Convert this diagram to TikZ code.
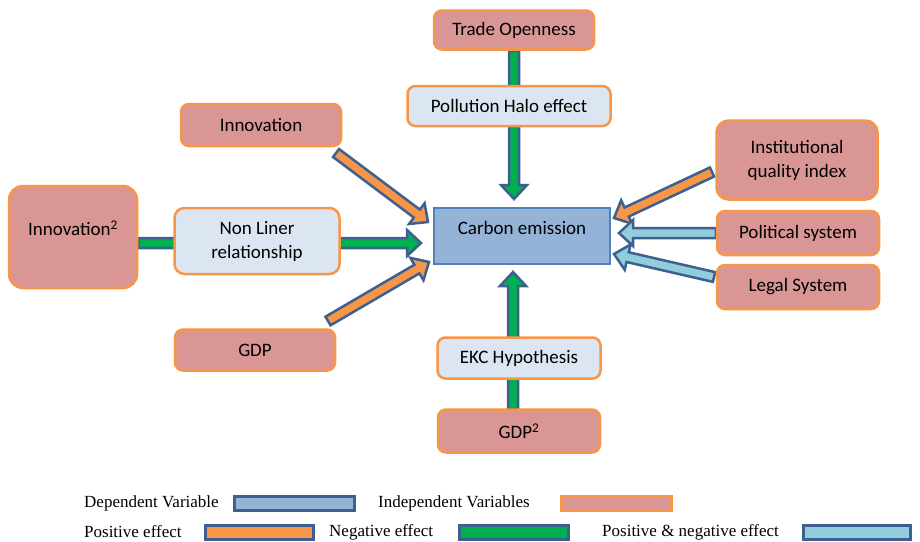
\documentclass[tikz,border=0pt]{standalone}
\usepackage{fontspec}
\setmainfont{Carlito}
\newfontfamily\legendfont{Liberation Serif}
\usetikzlibrary{calc}
\pgfdeclarelayer{background}
\pgfsetlayers{background,main}
\definecolor{orngB}{HTML}{F79646}
\definecolor{pinkF}{HTML}{D99694}
\definecolor{paleF}{HTML}{DCE6F2}
\definecolor{depF}{HTML}{95B3D7}
\definecolor{depB}{HTML}{4F81BD}
\definecolor{arrB}{HTML}{3C6090}
\definecolor{grnF}{HTML}{00B050}
\definecolor{ltbF}{HTML}{93CDDD}
\def\asw{5pt}
\def\ahw{13pt}
\def\ahl{14pt}
\newcommand\barrow[3]{%
  \path ($(#3)!\ahl!(#2)$) coordinate (hb);
  \draw[arrowline, fill=#1] ($(#2)!\asw!90:(#3)$) -- ($(hb)!\asw!90:(#3)$) -- ($(hb)!\ahw!90:(#3)$) -- (#3) -- ($(hb)!\ahw!-90:(#3)$) -- ($(hb)!\asw!-90:(#3)$) -- ($(#2)!\asw!-90:(#3)$) -- cycle;}
\tikzset{
  box/.style={draw=orngB, line width=2.5pt, rounded corners=8pt, align=center, inner sep=2pt,
    font=\fontsize{19}{24}\selectfont},
  indep/.style={box, fill=pinkF},
  med/.style={box, fill=paleF},
  dep/.style={box, fill=depF, draw=depB, rounded corners=0pt},
  arrowline/.style={draw=arrB, line width=2.5pt, line join=miter},
  legtext/.style={anchor=west, inner sep=0pt, font=\legendfont\fontsize{17}{20}\selectfont},
  legbox/.style={draw=arrB, line width=3pt, minimum width=#1, minimum height=14pt, inner sep=0pt},
}
\begin{document}
\begin{tikzpicture}[x=1pt,y=-1pt]
\useasboundingbox (0,0) rectangle (920,541);
% nodes
\node[indep, minimum width=160pt, minimum height=39pt] (to) at (514,30) {\raisebox{-2pt}{Trade Openness}};
\node[med, minimum width=203pt, minimum height=40pt] (ph) at (509,106) {Pollution Halo effect};
\node[indep, minimum width=160pt, minimum height=42pt] (inn) at (261,125) {Innovation};
\node[indep, minimum width=161pt, minimum height=79pt, rounded corners=12pt] (iqi) at (797,160) {Institutional\\quality index};
\node[indep, minimum width=128pt, minimum height=102pt, rounded corners=14pt] (inn2) at (73,237) {\raisebox{18pt}{Innovation\textsuperscript{2}}};
\node[med, minimum width=165pt, minimum height=66pt, rounded corners=10pt] (nl) at (257,241) {Non Liner\\relationship};
\node[dep, minimum width=176pt, minimum height=56pt] (ce) at (522,236) {\raisebox{16pt}{Carbon emission}};
\node[indep, minimum width=162pt, minimum height=44pt] (ps) at (798,233) {Political system};
\node[indep, minimum width=162pt, minimum height=44pt] (ls) at (798,287) {Legal System};
\node[indep, minimum width=160pt, minimum height=41pt] (gdp) at (255,350) {GDP};
\node[med, minimum width=163pt, minimum height=41pt] (ekc) at (519,358) {EKC Hypothesis};
\node[indep, minimum width=162pt, minimum height=43pt] (gdp2) at (519,431) {GDP\textsuperscript{2}};
% arrow ends
\coordinate (s1) at (to.south);
\coordinate (t1) at (514,199);
\coordinate (s2) at (336,153);
\coordinate (t2) at (428,222);
\coordinate (s3) at (inn2.east |- 0,243);
\coordinate (t3) at (421,243);
\coordinate (s4) at (328,321);
\coordinate (t4) at (429,262);
\coordinate (s5) at (513,409);
\coordinate (t5) at (513,272);
\coordinate (s6) at (712,172);
\coordinate (t6) at (614,218);
\coordinate (s7) at (ps.west);
\coordinate (t7) at (619,233);
\coordinate (s8) at (714,277);
\coordinate (t8) at (614,254);
\begin{pgfonlayer}{background}
\barrow{grnF}{s1}{t1}
\barrow{orngB}{s2}{t2}
\barrow{grnF}{s3}{t3}
\barrow{orngB}{s4}{t4}
\barrow{grnF}{s5}{t5}
\barrow{orngB}{s6}{t6}
\barrow{ltbF}{s7}{t7}
\barrow{ltbF}{s8}{t8}
\end{pgfonlayer}
% legend
\node[legtext] (l1) at (84,503) {Dependent Variable};
\node[legbox=120pt, fill=depF] (lb1) at (294,503) {};
\node[legtext] (l2) at (378,503) {Independent Variables};
\node[legbox=110pt, fill=pinkF, draw=orngB] (lb2) at (616,503) {};
\node[legtext] (l3) at (84,532) {Positive effect};
\node[legbox=108pt, fill=orngB] (lb3) at (259,532) {};
\node[legtext] (l4) at (329,532) {Negative effect};
\node[legbox=109pt, fill=grnF] (lb4) at (514,532) {};
\node[legtext] (l5) at (602,532) {Positive \& negative effect};
\node[legbox=107pt, fill=ltbF] (lb5) at (857,532) {};
\end{tikzpicture}
\end{document}
